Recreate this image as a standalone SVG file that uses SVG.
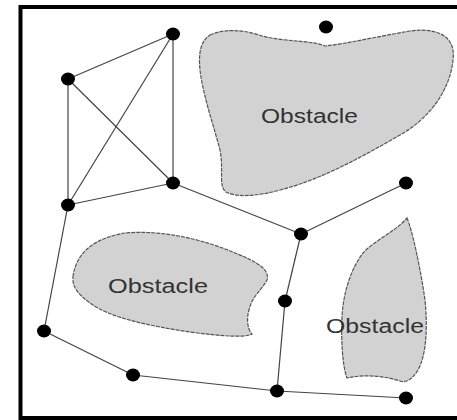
<svg xmlns="http://www.w3.org/2000/svg" width="457" height="420" viewBox="0 0 457 420">
<style>
.obs{fill:#d2d2d2;stroke:#555;stroke-width:1.2;stroke-dasharray:4 1}
.lbl{font-family:"Liberation Sans",Arial,sans-serif;font-size:20px;fill:#333}
.edge{stroke:#444;stroke-width:1.2;fill:none}
.node{fill:#000}
.frame{stroke:#000;stroke-width:4;fill:none}
</style>
<rect width="457" height="420" fill="#fff"/>
<path class="frame" d="M470,7 H20.5 V418 H470"/>
<g id="obstacle-top">
<path class="obs" d="M210,35 C225,28 245,30 262,36 C285,42 310,40 325,46 C345,44 380,36 410,31 C440,27 456,38 453,60 C450,90 430,118 400,135 C360,158 320,180 280,190 C255,197 235,197 226,192 C218,186 224,170 220,150 C212,120 203,95 200,70 C198,50 202,40 210,35 Z"/>
<text class="lbl" x="261" y="123" textLength="97" lengthAdjust="spacingAndGlyphs">Obstacle</text>
</g>
<g id="obstacle-left">
<path class="obs" d="M73,277 C76,252 95,238 125,233 C160,230 200,238 235,253 C258,262 270,270 267,280 C262,290 252,296 249,310 C246,320 248,330 252,334 C245,338 220,336 190,332 C150,326 110,318 90,303 C78,294 72,287 73,277 Z"/>
<text class="lbl" x="108" y="293" textLength="100" lengthAdjust="spacingAndGlyphs">Obstacle</text>
</g>
<g id="obstacle-right">
<path class="obs" d="M407,218 C412,230 420,265 425,300 C428,330 426,355 418,370 C412,380 405,383 400,381 C385,376 365,374 347,378 C342,365 341,335 342,317 C343,295 350,270 363,253 C375,240 395,232 407,218 Z"/>
<text class="lbl" x="326" y="333" textLength="98" lengthAdjust="spacingAndGlyphs">Obstacle</text>
</g>
<g id="connectors">
<line class="edge" x1="173" y1="34" x2="68" y2="79"/>
<line class="edge" x1="173" y1="34" x2="173" y2="183"/>
<line class="edge" x1="173" y1="34" x2="68" y2="205"/>
<line class="edge" x1="68" y1="79" x2="173" y2="183"/>
<line class="edge" x1="68" y1="79" x2="68" y2="205"/>
<line class="edge" x1="173" y1="183" x2="68" y2="205"/>
<line class="edge" x1="173" y1="183" x2="301" y2="234"/>
<line class="edge" x1="301" y1="234" x2="406" y2="183"/>
<line class="edge" x1="301" y1="234" x2="285" y2="301"/>
<line class="edge" x1="285" y1="301" x2="277" y2="391"/>
<line class="edge" x1="68" y1="205" x2="44" y2="331"/>
<line class="edge" x1="44" y1="331" x2="133" y2="375"/>
<line class="edge" x1="133" y1="375" x2="277" y2="391"/>
<line class="edge" x1="277" y1="391" x2="406" y2="398"/>
</g>
<g id="n1"><ellipse class="node" cx="173" cy="34" rx="7" ry="6.5"/></g>
<g id="n2"><ellipse class="node" cx="68" cy="79" rx="7" ry="6.5"/></g>
<g id="n3"><ellipse class="node" cx="173" cy="183" rx="7" ry="6.5"/></g>
<g id="n4"><ellipse class="node" cx="68" cy="205" rx="7" ry="6.5"/></g>
<g id="n5"><ellipse class="node" cx="326" cy="27" rx="7" ry="6.5"/></g>
<g id="n6"><ellipse class="node" cx="406" cy="183" rx="7" ry="6.5"/></g>
<g id="n7"><ellipse class="node" cx="301" cy="234" rx="7" ry="6.5"/></g>
<g id="n8"><ellipse class="node" cx="285" cy="301" rx="7" ry="6.5"/></g>
<g id="n9"><ellipse class="node" cx="44" cy="331" rx="7" ry="6.5"/></g>
<g id="n10"><ellipse class="node" cx="133" cy="375" rx="7" ry="6.5"/></g>
<g id="n11"><ellipse class="node" cx="277" cy="391" rx="7" ry="6.5"/></g>
<g id="n12"><ellipse class="node" cx="406" cy="398" rx="7" ry="6.5"/></g>
</svg>
